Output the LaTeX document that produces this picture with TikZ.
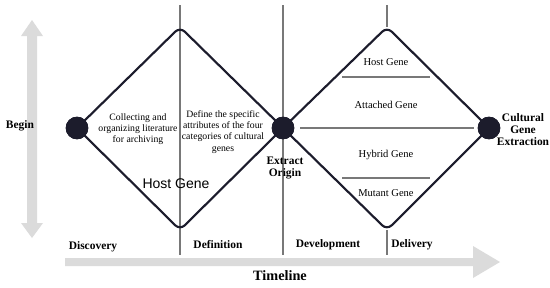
\documentclass[tikz,border=0pt]{standalone}
\usepackage{fontspec}
\setmainfont{Liberation Serif}
\newfontfamily\arialfont{Liberation Sans}
\definecolor{navyline}{RGB}{28,28,44}
\definecolor{arrowgray}{RGB}{219,219,219}
\definecolor{dividergray}{RGB}{120,120,120}
\tikzset{
  dot/.style={circle,fill=navyline,draw=navyline,minimum size=16.5pt,inner sep=0pt},
  divider/.style={dividergray,line width=0.8pt},
  diamond line/.style={navyline,line width=1.6pt,rounded corners=5pt},
  small text/.style={inner sep=0.75pt,align=center,font=\fontsize{7.3}{8.4}\selectfont},
  gene text/.style={inner sep=0.75pt,align=center,font=\fontsize{7.9}{9}\selectfont},
  bold text/.style={inner sep=0.75pt,align=center,font=\fontsize{8.6}{9}\selectfont\bfseries},
}
\begin{document}
\begin{tikzpicture}[x=0.75pt,y=0.75pt,yscale=-1,xscale=1]
\useasboundingbox (0,0) rectangle (550,287);

%Shape: Double Arrow
\fill [arrowgray] (32,20) -- (43,36) -- (37,36) -- (37,223) -- (43,223) -- (32,238) -- (21,223) -- (27,223) -- (27,36) -- (21,36) -- cycle ;
%Shape: Right Arrow
\fill [arrowgray] (65,258) -- (473,258) -- (473,246) -- (500,262) -- (473,278) -- (473,266) -- (65,266) -- cycle ;

%Straight Lines
\coordinate (defTop) at (180,5);
\coordinate (defBot) at (180,255);
\draw [divider] (defTop) -- (defBot) ;
%Straight Lines
\coordinate (devTop) at (283,5);
\coordinate (devBot) at (283,255);
\draw [divider] (devTop) -- (devBot) ;

% diamond corners
\coordinate (topA) at (180,27);
\coordinate (botA) at (180,230);
\coordinate (topB) at (387,27);
\coordinate (botB) at (387,230);
\node [dot] (discDot) at (77,128) {};
\node [dot] (originDot) at (283,128) {};
\node [dot] (extractDot) at (489,128) {};

%Straight Lines
\coordinate (delTop) at (387,5);
\coordinate (delBot) at (387,255);
\draw [divider] (delTop) -- (topB) ;
\draw [divider] (botB) -- (delBot) ;
%Straight Lines
\coordinate (hostL) at (342,77);
\coordinate (hostR) at (430,77);
\draw [divider] (hostL) -- (hostR) ;
\coordinate (midL) at (300,128);
\coordinate (midR) at (474,128);
\draw [divider] (midL) -- (midR) ;
\coordinate (hybL) at (342,178);
\coordinate (hybR) at (430,178);
\draw [divider] (hybL) -- (hybR) ;

%Shape: Diamond
\draw [diamond line] (discDot.center) -- (topA) -- (originDot.center) -- (botA) -- cycle ;
%Shape: Diamond
\draw [diamond line] (originDot.center) -- (topB) -- (extractDot.center) -- (botB) -- cycle ;
%Shape: Circle
\node [dot] at (discDot) {};
\node [dot] at (originDot) {};
\node [dot] at (extractDot) {};

% Text Node
\node [bold text] (begin) at (20,126) {Begin};
% Text Node
\node [small text] (collect) at (138,129) {Collecting and\\organizing literature\\for archiving};
% Text Node
\node [small text] (define) at (223,132) {Define the specific\\attributes of the four\\categories of cultural\\genes};
% Text Node
\node [inner sep=0.75pt,font=\arialfont\fontsize{10.5}{12}\selectfont] (hostBig) at (176,184) {Host Gene};
% Text Node
\node [bold text] (origin) at (285,168) {Extract\\Origin};
% Text Node
\node [bold text] (extract) at (523,130) {Cultural\\Gene\\Extraction};
% Text Node
\node [gene text] (host) at (386,62) {Host Gene};
% Text Node
\node [gene text] (attached) at (386,105) {Attached Gene};
% Text Node
\node [gene text] (hybrid) at (386,155) {Hybrid Gene};
% Text Node
\node [gene text] (mutant) at (386,193) {Mutant Gene};
% Text Node
\node [bold text] (discovery) at (93,247) {Discovery};
% Text Node
\node [bold text] (definition) at (218,245) {Definition};
% Text Node
\node [bold text] (development) at (328,245) {Development};
% Text Node
\node [bold text] (delivery) at (412,245) {Delivery};
% Text Node
\node [inner sep=0.75pt,font=\fontsize{10.7}{12}\selectfont\bfseries] (timeline) at (280,276) {Timeline};
\end{tikzpicture}
\end{document}
